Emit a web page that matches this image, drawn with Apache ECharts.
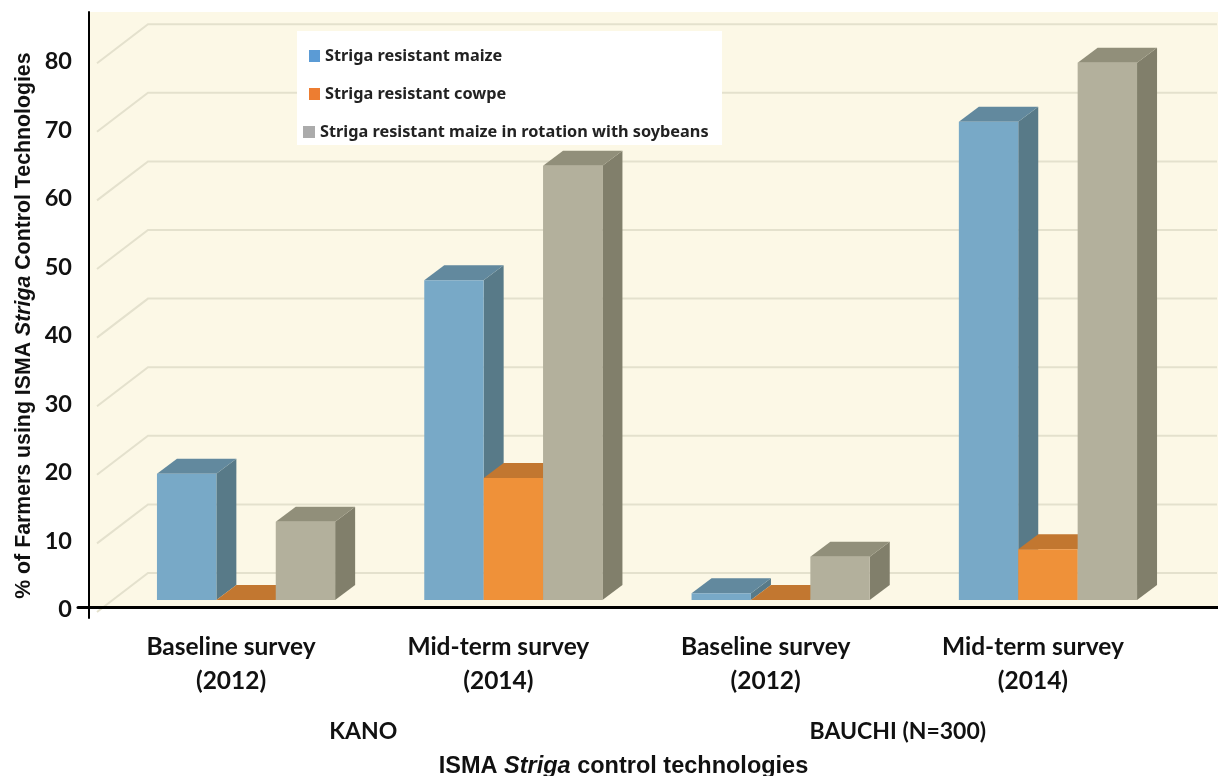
<!DOCTYPE html>
<html><head><meta charset="utf-8">
<style>html,body{margin:0;padding:0;background:#fff}#c{width:1218px;height:776px}</style>
<script src="https://cdn.jsdelivr.net/npm/echarts@6/dist/echarts.min.js"></script>
</head><body><div id="c"></div>
<script>
const surveyLabels = ["Baseline survey\n(2012)", "Mid-term survey\n(2014)", "Baseline survey\n(2012)", "Mid-term survey\n(2014)"];
const stateLabels = ["KANO", "BAUCHI (N=300)"];
const seriesNames = ["Striga resistant maize", "Striga resistant cowpe", "Striga resistant maize in rotation with soybeans"];
const maizeValues = [18.4, 46.6, 1.0, 69.7];
const cowpeaValues = [0, 17.8, 0, 7.4];
const rotationValues = [11.4, 63.3, 6.3, 78.3];
const gridValues = [0, 10, 20, 30, 40, 50, 60, 70, 80];

const DX = 20, DY = 15;
const palettes = [
  {front: '#78A9C7', top: '#62899E', side: '#587A88'},
  {front: '#EF9139', top: '#C27730', side: '#A56526'},
  {front: '#B3B09C', top: '#918F7A', side: '#817F6B'}
];
const BAR_FRACTION = 0.2222;

function barRenderer(seriesIdx) {
  const pal = palettes[seriesIdx];
  return function (params, api) {
    const cat = api.value(0), val = api.value(1);
    const c0 = api.coord([cat, 0]), c1 = api.coord([cat, val]);
    const w = api.size([1, 0])[0] * BAR_FRACTION;
    const l = c0[0] + (seriesIdx - 1.5) * w, r = l + w, b = c0[1], t = c1[1];
    const poly = (points, fill) => ({type: 'polygon', shape: {points}, style: {fill}});
    const children = [];
    children.push(poly([[r, b], [r + DX, b - DY], [r + DX, t - DY], [r, t]], pal.side));
    children.push(poly([[l, t], [l + DX, t - DY], [r + DX, t - DY], [r, t]], pal.top));
    if (b - t > 0.1) children.push(poly([[l, b], [r, b], [r, t], [l, t]], pal.front));
    return {type: 'group', children};
  };
}
function gridRenderer(params, api) {
  const y = api.coord([0, api.value(1)])[1];
  const cs = params.coordSys;
  return {
    type: 'polyline',
    shape: {points: [[cs.x - 15.4, y + 12], [cs.x + 35.6, y - 27], [api.getWidth() - 1, y - 27]]},
    style: {stroke: '#E4E1CD', lineWidth: 2, fill: null}
  };
}
const hiddenAxis = {show: false};
const lineOnly = (w, z) => ({
  show: true, z,
  axisLine: {show: true, onZero: false, lineStyle: {color: '#000', width: w}},
  axisTick: {show: false}, axisLabel: {show: false}, splitLine: {show: false}
});
const valueSeries = [maizeValues, cowpeaValues, rotationValues];
const labelFont = 'Lato';

const option = {
  animation: false,
  backgroundColor: '#fff',
  grid: [
    {left: 112.4, width: 1069.2, top: 51.2, height: 548.8, outerBoundsMode: 'none'},
    {left: 90, right: 0, top: 12, height: 595, show: true, backgroundColor: '#FCF8E6', borderWidth: 0, outerBoundsMode: 'none'},
    {left: 78, right: 0, top: 12, height: 595, outerBoundsMode: 'none'},
    {left: 89, width: 100, top: 12, height: 606, outerBoundsMode: 'none'},
    {left: 89, width: 100, top: 61.5, height: 548, outerBoundsMode: 'none'}
  ],
  xAxis: [
    {type: 'category', gridIndex: 0, position: 'bottom', data: surveyLabels,
      axisLine: {show: false}, axisTick: {show: false},
      axisLabel: {interval: 0, margin: 30, color: '#111', fontFamily: labelFont, fontWeight: 'bold', fontSize: 24.5, lineHeight: 34, padding: [0, 30, 0, 0]}},
    {type: 'category', gridIndex: 0, position: 'bottom', data: stateLabels,
      axisLine: {show: false}, axisTick: {show: false},
      axisLabel: {interval: 0, margin: 120.5, color: '#111', fontFamily: labelFont, fontWeight: 'bold', fontSize: 23, lineHeight: 22, padding: [0, 33, 0, 0]}},
    Object.assign({type: 'value', gridIndex: 1}, hiddenAxis),
    Object.assign({type: 'value', gridIndex: 2, position: 'bottom', min: 0, max: 1}, lineOnly(3, 6)),
    Object.assign({type: 'value', gridIndex: 3}, hiddenAxis),
    Object.assign({type: 'value', gridIndex: 4}, hiddenAxis)
  ],
  yAxis: [
    {type: 'value', gridIndex: 0, min: 0, max: 80, interval: 10, show: true,
      name: '% of Farmers using ISMA {i|Striga} Control Technologies',
      nameLocation: 'middle', nameRotate: 90, nameGap: 77.4,
      nameTextStyle: {fontFamily: 'Liberation Sans', fontWeight: 'bold', fontSize: 21.3, color: '#111',
        rich: {i: {fontFamily: 'Liberation Sans', fontWeight: 'bold', fontStyle: 'italic', fontSize: 21.3, color: '#111'}}},
      axisLine: {show: false}, axisTick: {show: false}, splitLine: {show: false},
      axisLabel: {show: false}},
    Object.assign({type: 'value', gridIndex: 1}, hiddenAxis),
    Object.assign({type: 'value', gridIndex: 2}, hiddenAxis),
    Object.assign({type: 'value', gridIndex: 3, position: 'left', min: 0, max: 1}, lineOnly(2, 6)),
    {type: 'value', gridIndex: 4, min: 0, max: 80, interval: 10,
      axisLine: {show: false}, axisTick: {show: false}, splitLine: {show: false},
      axisLabel: {margin: 17, color: '#111', fontFamily: labelFont, fontWeight: 'bold', fontSize: 23.5}}
  ],
  title: {
    text: 'ISMA {i|Striga} control technologies',
    left: 618.5, top: 750, textAlign: 'center',
    textStyle: {fontFamily: 'Liberation Sans', fontWeight: 'bold', fontSize: 23.5, color: '#111',
      rich: {i: {fontFamily: 'Liberation Sans', fontWeight: 'bold', fontStyle: 'italic', fontSize: 23.5, color: '#111'}}}
  },
  graphic: [{type: 'rect', z: 5, silent: true, shape: {x: 297, y: 31, width: 425, height: 114}, style: {fill: '#fff'}}],
  legend: [0, 1, 2].map(i => ({
    data: [seriesNames[i]], selectedMode: false, z: 10, orient: 'vertical', padding: 0,
    left: [309, 309, 303][i], top: [48, 86, 124][i],
    itemWidth: [11, 11, 12][i], itemHeight: 12, icon: 'rect',
    textStyle: {fontFamily: 'Noto Sans', fontWeight: 'bold', fontSize: 16.3, color: '#222'}
  })),
  series: [
    {type: 'custom', name: 'grid', xAxisIndex: 0, yAxisIndex: 0, z: 1, silent: true,
      renderItem: gridRenderer, data: gridValues.map(v => [0, v])}
  ].concat(valueSeries.map((vals, si) => ({
    type: 'custom', name: seriesNames[si], xAxisIndex: 0, yAxisIndex: 0, z: 2 + si,
    itemStyle: {color: si === 2 ? '#ABABAB' : (si === 0 ? '#5B9BD5' : '#ED7D31')},
    renderItem: barRenderer(si),
    data: vals.map((v, i) => [i, v])
  })))
};
echarts.init(document.getElementById('c'), null, {renderer: 'canvas'}).setOption(option);
</script></body></html>
